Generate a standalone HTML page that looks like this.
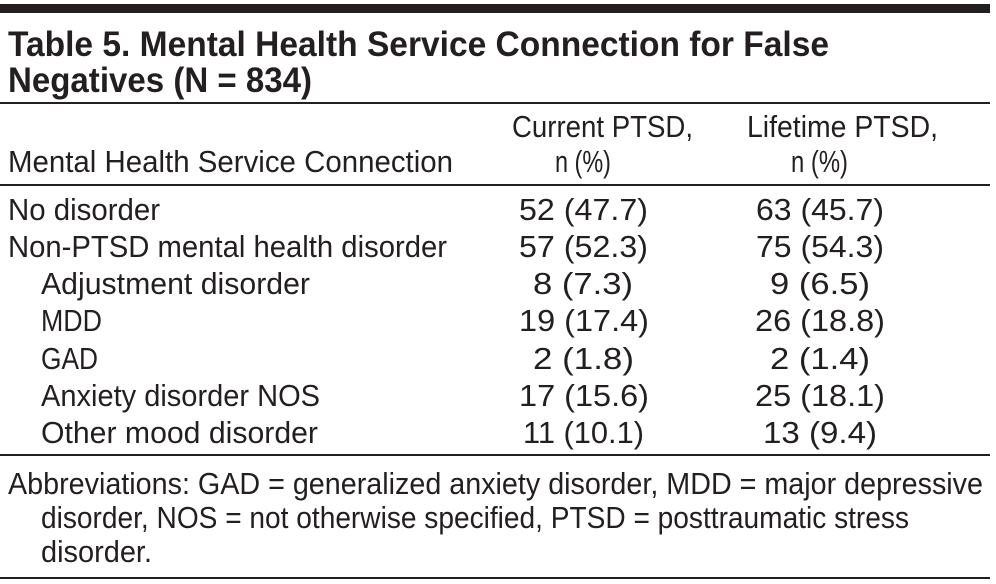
<!DOCTYPE html>
<html><head><meta charset="utf-8"><style>
html,body{margin:0;padding:0;background:#fff;}
svg{display:block;}
text{font-family:"Liberation Sans",sans-serif;fill:#231f20;}
</style></head><body>
<svg width="996" height="584" viewBox="0 0 996 584">
<rect x="0" y="4" width="990" height="9" fill="#231f20"/>
<g font-weight="bold" font-size="35">
<text x="8" y="56" textLength="821" lengthAdjust="spacingAndGlyphs">Table 5. Mental Health Service Connection for False</text>
<text x="8" y="92" textLength="304" lengthAdjust="spacingAndGlyphs">Negatives (N = 834)</text>
</g>
<rect x="0" y="102" width="990" height="2" fill="#231f20"/>
<g font-size="31">
<text x="8" y="172" textLength="445" lengthAdjust="spacingAndGlyphs">Mental Health Service Connection</text>
<text x="512" y="137" textLength="181" lengthAdjust="spacingAndGlyphs">Current PTSD,</text>
<text x="555" y="172" textLength="56" lengthAdjust="spacingAndGlyphs">n (%)</text>
<text x="747" y="137" textLength="191" lengthAdjust="spacingAndGlyphs">Lifetime PTSD,</text>
<text x="791" y="172" textLength="57" lengthAdjust="spacingAndGlyphs">n (%)</text>
</g>
<rect x="0" y="184" width="990" height="2" fill="#231f20"/>
<g font-size="31" lengthAdjust="spacingAndGlyphs">
<text x="8" y="220" textLength="152" lengthAdjust="spacingAndGlyphs">No disorder</text>
<text x="8" y="257" textLength="439" lengthAdjust="spacingAndGlyphs">Non-PTSD mental health disorder</text>
<text x="41" y="294" textLength="269" lengthAdjust="spacingAndGlyphs">Adjustment disorder</text>
<text x="41" y="331" textLength="61" lengthAdjust="spacingAndGlyphs">MDD</text>
<text x="41" y="369" textLength="57" lengthAdjust="spacingAndGlyphs">GAD</text>
<text x="41" y="406" textLength="279" lengthAdjust="spacingAndGlyphs">Anxiety disorder NOS</text>
<text x="41" y="443" textLength="277" lengthAdjust="spacingAndGlyphs">Other mood disorder</text>
<text x="519" y="220" textLength="129" lengthAdjust="spacingAndGlyphs">52 (47.7)</text>
<text x="519" y="257" textLength="129" lengthAdjust="spacingAndGlyphs">57 (52.3)</text>
<text x="533" y="294" textLength="100" lengthAdjust="spacingAndGlyphs">8 (7.3)</text>
<text x="519" y="331" textLength="130" lengthAdjust="spacingAndGlyphs">19 (17.4)</text>
<text x="533" y="369" textLength="101" lengthAdjust="spacingAndGlyphs">2 (1.8)</text>
<text x="519" y="406" textLength="130" lengthAdjust="spacingAndGlyphs">17 (15.6)</text>
<text x="523" y="443" textLength="121" lengthAdjust="spacingAndGlyphs">11 (10.1)</text>
<text x="756" y="220" textLength="128" lengthAdjust="spacingAndGlyphs">63 (45.7)</text>
<text x="756" y="257" textLength="128" lengthAdjust="spacingAndGlyphs">75 (54.3)</text>
<text x="770" y="294" textLength="100" lengthAdjust="spacingAndGlyphs">9 (6.5)</text>
<text x="755" y="331" textLength="130" lengthAdjust="spacingAndGlyphs">26 (18.8)</text>
<text x="770" y="369" textLength="100" lengthAdjust="spacingAndGlyphs">2 (1.4)</text>
<text x="755" y="406" textLength="130" lengthAdjust="spacingAndGlyphs">25 (18.1)</text>
<text x="763" y="443" textLength="114" lengthAdjust="spacingAndGlyphs">13 (9.4)</text>
</g>
<rect x="0" y="454" width="990" height="2" fill="#231f20"/>
<g font-size="31">
<text x="8" y="494" textLength="975" lengthAdjust="spacingAndGlyphs">Abbreviations: GAD = generalized anxiety disorder, MDD = major depressive</text>
<text x="41" y="528" textLength="868" lengthAdjust="spacingAndGlyphs">disorder, NOS = not otherwise specified, PTSD = posttraumatic stress</text>
<text x="41" y="562" textLength="111" lengthAdjust="spacingAndGlyphs">disorder.</text>
</g>
<rect x="0" y="577" width="990" height="2" fill="#231f20"/>
</svg>
</body></html>
